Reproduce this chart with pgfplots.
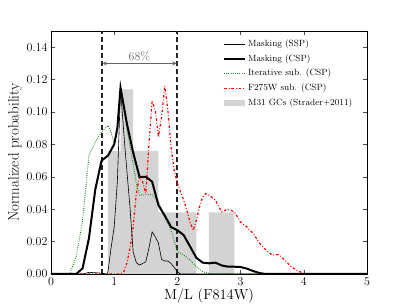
\documentclass[border=0pt]{standalone}
\usepackage{pgfplots}
\pgfplotsset{compat=1.18}
\usetikzlibrary{arrows.meta}
\definecolor{histgray}{RGB}{211,211,211}
\definecolor{dgreen}{RGB}{20,140,20}
\definecolor{myred}{RGB}{255,0,0}
\begin{document}
\begin{tikzpicture}
\path[use as bounding box] (-51pt,-31pt) rectangle (356pt,274pt);
\begin{axis}[
  at={(0pt,0pt)}, anchor=south west,
  scale only axis, width=316pt, height=243pt,
  xmin=0, xmax=5, ymin=0, ymax=0.15,
  xtick={0,1,2,3,4,5},
  ytick={0,0.02,0.04,0.06,0.08,0.10,0.12,0.14},
  yticklabel style={/pgf/number format/.cd, fixed, fixed zerofill, precision=2},
  tick label style={font=\large},
  tick align=inside, tick pos=both,
  major tick length=4pt,
  every tick/.style={black!70, line width=0.5pt},
  axis line style={black, line width=0.9pt},
  xlabel={\fontsize{14.5}{16}\selectfont M/L (F814W)},
  ylabel={\fontsize{15}{16}\selectfont Normalized probability},
  xlabel style={yshift=4pt},
  ylabel style={yshift=-2pt},
]
% histogram
\addplot[fill=histgray, draw=none, const plot mark left, forget plot] coordinates {
(0.9,0) (0.9,0.076) (1.1,0.114) (1.3,0.076) (1.5,0.076) (1.7,0.038) (1.9,0.038) (2.1,0.038) (2.3,0) (2.5,0.038) (2.7,0.038) (2.9,0)
} \closedcycle;

% 68% interval
\addplot[black!85, line width=1.9pt, dash pattern=on 5pt off 3pt, forget plot] coordinates {(0.8,0) (0.8,0.15)};
\addplot[black!85, line width=1.9pt, dash pattern=on 5pt off 3pt, forget plot] coordinates {(2.0,0) (2.0,0.15)};
\addplot[black!60, line width=1pt, {Stealth[length=4.5pt,width=4pt]}-{Stealth[length=4.5pt,width=4pt]}, forget plot] coordinates {(0.81,0.130) (1.99,0.130)};
\node[black!60, font=\large] at (axis cs:1.4,0.1345) {68\%};

% F275W sub (CSP)
\addplot[myred, line width=1.2pt, dash pattern=on 2.5pt off 2pt on 0.8pt off 2pt, forget plot] coordinates {
(0,0) (1.1,0) (1.15,0.0014) (1.2,0.0066) (1.25,0.016) (1.3,0.029) (1.35,0.0497) (1.4,0.060) (1.45,0.057) (1.5,0.0497)
(1.55,0.080) (1.6,0.107) (1.65,0.101) (1.7,0.0846) (1.75,0.097) (1.8,0.116) (1.85,0.101) (1.9,0.078) (1.95,0.064)
(2.0,0.056) (2.05,0.0507) (2.1,0.0456) (2.15,0.0394) (2.2,0.032) (2.25,0.027) (2.3,0.033) (2.35,0.0415) (2.4,0.0476)
(2.45,0.0497) (2.5,0.0487) (2.6,0.0456) (2.7,0.0384) (2.8,0.040) (2.9,0.0384) (3.0,0.032) (3.1,0.029) (3.2,0.025)
(3.3,0.019) (3.4,0.0148) (3.5,0.0117) (3.6,0.012) (3.7,0.0086) (3.8,0.0045) (3.9,0.002) (4.0,0.0004) (4.1,0) (5,0)
};

% Iterative sub (CSP)
\addplot[dgreen, line width=1pt, dash pattern=on 0.8pt off 1.4pt, forget plot] coordinates {
(0,0) (0.3,0) (0.4,0.011) (0.5,0.033) (0.6,0.073) (0.7,0.0815) (0.8,0.0877) (0.9,0.0916) (0.95,0.0877) (1.0,0.080)
(1.05,0.090) (1.1,0.115) (1.2,0.090) (1.3,0.068) (1.35,0.056) (1.4,0.0487) (1.5,0.049) (1.6,0.049) (1.7,0.0445)
(1.8,0.035) (1.9,0.027) (2.0,0.0138) (2.1,0.0117) (2.2,0.0086) (2.3,0.0045) (2.4,0.0014) (2.5,0.0004) (2.6,0) (5,0)
};

% Masking (SSP)
\addplot[black, line width=0.6pt, forget plot] coordinates {
(0,0) (0.5,0) (0.6,0.001) (0.7,0.0008) (0.8,0.0005) (0.88,0) (0.9,0.001) (0.95,0.016) (1.0,0.029) (1.05,0.057)
(1.1,0.114) (1.17,0.078) (1.25,0.041) (1.3,0.0137) (1.35,0.007) (1.4,0.0055) (1.5,0.0075) (1.55,0.016) (1.6,0.026)
(1.65,0.023) (1.7,0.019) (1.75,0.009) (1.8,0.008) (1.85,0.008) (1.9,0.0065) (1.95,0.004) (2.0,0.0015) (2.05,0) (5,0)
};

% Masking (CSP)
\addplot[black, line width=2pt, forget plot] coordinates {
(0,0) (0.4,0) (0.5,0.0035) (0.6,0.022) (0.7,0.052) (0.8,0.070) (0.9,0.073) (1.0,0.080) (1.05,0.090) (1.1,0.115)
(1.2,0.093) (1.3,0.075) (1.4,0.060) (1.5,0.060) (1.6,0.057) (1.7,0.0425) (1.8,0.036) (1.9,0.029) (2.0,0.027)
(2.1,0.024) (2.2,0.017) (2.3,0.010) (2.4,0.007) (2.5,0.0066) (2.6,0.007) (2.7,0.0053) (2.8,0.0045) (2.9,0.0045)
(3.0,0.0043) (3.1,0.0033) (3.2,0.0018) (3.3,0.0006) (3.4,0) (5,0)
};

% legend (drawn by hand)
\draw[black, line width=0.6pt] (rel axis cs:0.5475,0.9465) -- (rel axis cs:0.614,0.9465);
\draw[black, line width=2pt] (rel axis cs:0.5475,0.885) -- (rel axis cs:0.614,0.885);
\draw[dgreen, line width=1pt, dash pattern=on 0.8pt off 1.4pt] (rel axis cs:0.5475,0.827) -- (rel axis cs:0.614,0.827);
\draw[myred, line width=1.2pt, dash pattern=on 2.5pt off 2pt on 0.8pt off 2pt] (rel axis cs:0.5475,0.765) -- (rel axis cs:0.614,0.765);
\fill[histgray] ([yshift=-3pt]rel axis cs:0.5475,0.704) rectangle ([yshift=3pt]rel axis cs:0.614,0.704);
\begin{scope}[every node/.style={anchor=west, inner sep=0pt, font=\fontsize{9}{10}\selectfont}]
\node at (rel axis cs:0.623,0.9465) {Masking (SSP)};
\node at (rel axis cs:0.623,0.885) {Masking (CSP)};
\node at (rel axis cs:0.623,0.827) {Iterative sub. (CSP)};
\node at (rel axis cs:0.623,0.765) {F275W sub. (CSP)};
\node at (rel axis cs:0.623,0.704) {M31 GCs (Strader+2011)};
\end{scope}
\end{axis}
\end{tikzpicture}
\end{document}
